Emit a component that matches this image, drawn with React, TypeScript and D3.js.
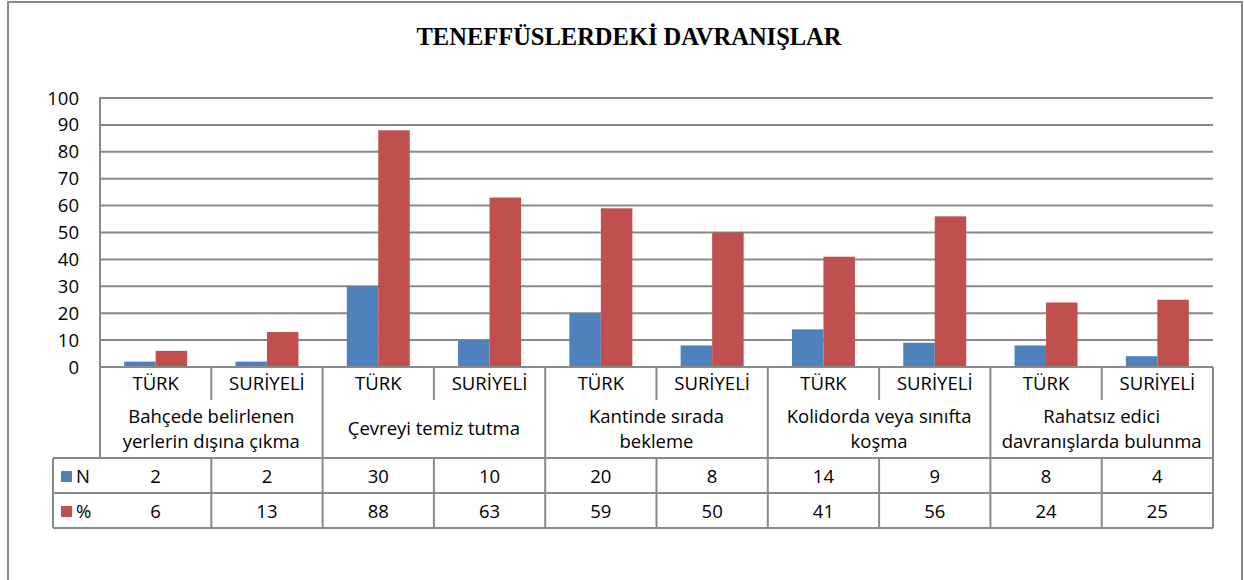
import React from "react";
import * as d3 from "d3";

const groups: string[][] = [
  ["Bahçede belirlenen", "yerlerin dışına çıkma"],
  ["Çevreyi temiz tutma"],
  ["Kantinde sırada", "bekleme"],
  ["Kolidorda veya sınıfta", "koşma"],
  ["Rahatsız edici", "davranışlarda bulunma"],
];
const subLabels = ["TÜRK", "SURİYELİ"];
const nValues = [2, 2, 30, 10, 20, 8, 14, 9, 8, 4];
const pctValues = [6, 13, 88, 63, 59, 50, 41, 56, 24, 25];
const seriesNames = ["N", "%"];
const yTicks = [0, 10, 20, 30, 40, 50, 60, 70, 80, 90, 100];
const title = "TENEFFÜSLERDEKİ DAVRANIŞLAR";

const colors = ["#4F81BD", "#C0504D"];
const lineColor = "#898989";
const font = "'Open Sans', sans-serif";
const fs = 18.5;

export default function App() {
  const W = 1244, H = 580;
  const left = 100, right = 1213, top = 98, bottom = 367;
  const tickRowB = 400, groupRowB = 458, nRowB = 493, pctRowB = 528;
  const legendL = 53;

  const cols = d3.range(nValues.length).map(String);
  const x = d3.scaleBand<string>().domain(cols).range([left, right]).padding(0);
  const xs = d3.scaleBand<string>().domain(seriesNames).range([0, x.bandwidth()]).paddingInner(0).paddingOuter(0.767);
  const y = d3.scaleLinear().domain([0, 100]).range([bottom, top]);
  const series = [nValues, pctValues];
  const bw = x.bandwidth();

  return (
    <svg width={W} height={H} style={{ position: "absolute", left: 0, top: 0 }}>
      <rect x={0} y={0} width={W} height={H} fill="#fff" />
      <rect x={8} y={2} width={1234} height={H + 10} fill="none" stroke={lineColor} strokeWidth={2} />
      <text x={629} y={45} textAnchor="middle" fontFamily="'Liberation Serif', serif" fontWeight="bold" fontSize={24.5} fill="#000">{title}</text>

      {yTicks.map((t) => (
        <g key={t}>
          {t > 0 && <line x1={left} x2={right} y1={y(t)} y2={y(t)} stroke={lineColor} strokeWidth={2} />}
          <text x={79} y={y(t) + 6.5} textAnchor="end" fontFamily={font} fontSize={fs} fill="#000">{t}</text>
        </g>
      ))}
      <line x1={left} x2={left} y1={top - 1} y2={groupRowB} stroke={lineColor} strokeWidth={2} />

      {series.map((vals, si) =>
        vals.map((v, i) => (
          <rect key={si + "-" + i} x={(x(String(i)) as number) + (xs(seriesNames[si]) as number)} y={y(v)} width={xs.bandwidth()} height={y(0) - y(v)} fill={colors[si]} />
        ))
      )}

      {/* table */}
      <line x1={left} x2={right} y1={bottom} y2={bottom} stroke={lineColor} strokeWidth={2} />
      {cols.map((c, i) => {
        const x0 = x(c) as number;
        const isGroupEdge = i % 2 === 0;
        return (
          <g key={c}>
            {i > 0 && <line x1={x0} x2={x0} y1={bottom} y2={isGroupEdge ? pctRowB : tickRowB} stroke={lineColor} strokeWidth={2} />}
            {i > 0 && !isGroupEdge && <line x1={x0} x2={x0} y1={groupRowB} y2={pctRowB} stroke={lineColor} strokeWidth={2} />}
            <text x={x0 + bw / 2} y={390} textAnchor="middle" fontFamily={font} fontSize={fs} fill="#000">{subLabels[i % 2]}</text>
            <text x={x0 + bw / 2} y={483} textAnchor="middle" fontFamily={font} fontSize={fs} fill="#000">{nValues[i]}</text>
            <text x={x0 + bw / 2} y={518} textAnchor="middle" fontFamily={font} fontSize={fs} fill="#000">{pctValues[i]}</text>
          </g>
        );
      })}
      <line x1={right} x2={right} y1={bottom} y2={pctRowB} stroke={lineColor} strokeWidth={2} />
      {groups.map((g, gi) => {
        const cx = (x(String(gi * 2)) as number) + bw;
        const startY = g.length === 1 ? 435 : 423;
        return (
          <text key={gi} textAnchor="middle" fontFamily={font} fontSize={fs} fill="#000">
            {g.map((line, li) => (
              <tspan key={li} x={cx} y={startY + li * 25}>{line}</tspan>
            ))}
          </text>
        );
      })}
      {[groupRowB, nRowB, pctRowB].map((yy) => (
        <line key={yy} x1={legendL} x2={right} y1={yy} y2={yy} stroke={lineColor} strokeWidth={2} />
      ))}
      <line x1={legendL} x2={legendL} y1={groupRowB} y2={pctRowB} stroke={lineColor} strokeWidth={2} />
      {seriesNames.map((s, si) => {
        const rowTop = si === 0 ? groupRowB : nRowB;
        return (
          <g key={s}>
            <rect x={61} y={rowTop + 13} width={11} height={11} fill={colors[si]} />
            <text x={76} y={rowTop + 25} fontFamily={font} fontSize={fs} fill="#000">{s}</text>
          </g>
        );
      })}
    </svg>
  );
}
